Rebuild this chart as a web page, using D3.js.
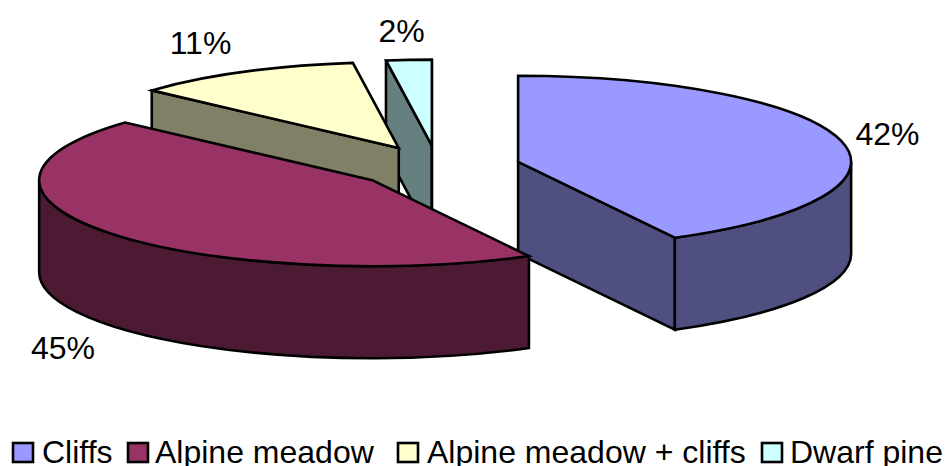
<!DOCTYPE html>
<html>
<head>
<meta charset="utf-8">
<script src="https://cdn.jsdelivr.net/npm/d3@7/dist/d3.min.js"></script>
<style>
  html, body { margin: 0; padding: 0; background: #fff; }
  svg { display: block; }
  text { font-family: "Liberation Sans", Arial, sans-serif; fill: #000; }
</style>
</head>
<body>
<svg id="chart" width="945" height="466"></svg>
<script>
// Habitat shares in percent, clockwise from twelve o'clock
const categories = ["Cliffs", "Alpine meadow", "Alpine meadow + cliffs", "Dwarf pine"];
const shares = [42.2, 44.5, 11.1, 2.2];

// Styling for each wedge
const topColors = ["#9999ff", "#993366", "#ffffcc", "#ccffff"];
const wallColors = ["#4f4f80", "#4d1a33", "#808066", "#668080"];

// Far wedges are painted first so nearer ones overlap them
const paintOrder = [3, 2, 0, 1];

// Pie geometry: a tilted, exploded disc
const centerX = 437.6, centerY = 167;
const radiusX = 333, radiusY = 86, depth = 92, explosion = 83;

// Label anchors and legend placement
const labelX = [887.5, 63, 200.5, 401.5];
const labelY = [145, 359, 54, 42];
const legendSwatchX = [13, 128, 398, 762];
const legendTextX = [42, 155, 427, 790];

const svg = d3.select("#chart");
const pie = d3.pie().sort(null).value(d => d)(shares);

// Project a pie angle (radians, clockwise from north) on to the tilted disc
const px = a => radiusX * Math.sin(a);
const py = a => -radiusY * Math.cos(a);

const rimArc = (a, sweep, x, y) =>
  `A${radiusX},${radiusY} 0 0 ${sweep} ${x + px(a)},${y + py(a)}`;

paintOrder.forEach(i => {
  const { startAngle: a0, endAngle: a1 } = pie[i];
  const mid = (a0 + a1) / 2;
  const ox = centerX + explosion * Math.sin(mid);
  const oy = centerY - explosion * (radiusY / radiusX) * Math.cos(mid);
  const g = svg.append("g")
    .attr("stroke", "#000")
    .attr("stroke-width", 2.6)
    .attr("stroke-linejoin", "miter");

  const addPath = (d, fill) => g.append("path").attr("d", d).attr("fill", fill);

  // Flat side walls along the two radial cuts, where they face the viewer
  [[a0, a0 - Math.PI / 2], [a1, a1 + Math.PI / 2]].forEach(([a, normal]) => {
    if (Math.cos(normal) < 0) {
      addPath(`M${ox},${oy} L${ox + px(a)},${oy + py(a)} l0,${depth} L${ox},${oy + depth} Z`, wallColors[i]);
    }
  });

  // Curved outer wall: only the front half of the rim is visible
  const wallStart = Math.max(a0, Math.PI / 2);
  const wallEnd = Math.min(a1, Math.PI * 1.5);
  if (wallEnd > wallStart) {
    addPath(
      `M${ox + px(wallStart)},${oy + py(wallStart)} ` +
      rimArc(wallEnd, 1, ox, oy) +
      ` l0,${depth} ` +
      rimArc(wallStart, 0, ox, oy + depth) + " Z",
      wallColors[i]
    );
  }

  // Top face
  addPath(
    `M${ox},${oy} L${ox + px(a0)},${oy + py(a0)} ` + rimArc(a1, 1, ox, oy) + " Z",
    topColors[i]
  );
});

// Percentage labels, rounded from the shares themselves
svg.selectAll("text.pct").data(shares).join("text")
  .attr("class", "pct")
  .attr("x", (d, i) => labelX[i])
  .attr("y", (d, i) => labelY[i])
  .attr("text-anchor", "middle")
  .attr("font-size", 32)
  .text(d => `${Math.round(d)}%`);

// Legend along the bottom edge
const legend = svg.selectAll("g.legend").data(categories).join("g").attr("class", "legend");
legend.append("rect")
  .attr("x", (d, i) => legendSwatchX[i])
  .attr("y", 443)
  .attr("width", 20)
  .attr("height", 19)
  .attr("fill", (d, i) => topColors[i])
  .attr("stroke", "#000")
  .attr("stroke-width", 2.6);
legend.append("text")
  .attr("x", (d, i) => legendTextX[i])
  .attr("y", 463)
  .attr("font-size", 32)
  .text(d => d);
</script>
</body>
</html>
